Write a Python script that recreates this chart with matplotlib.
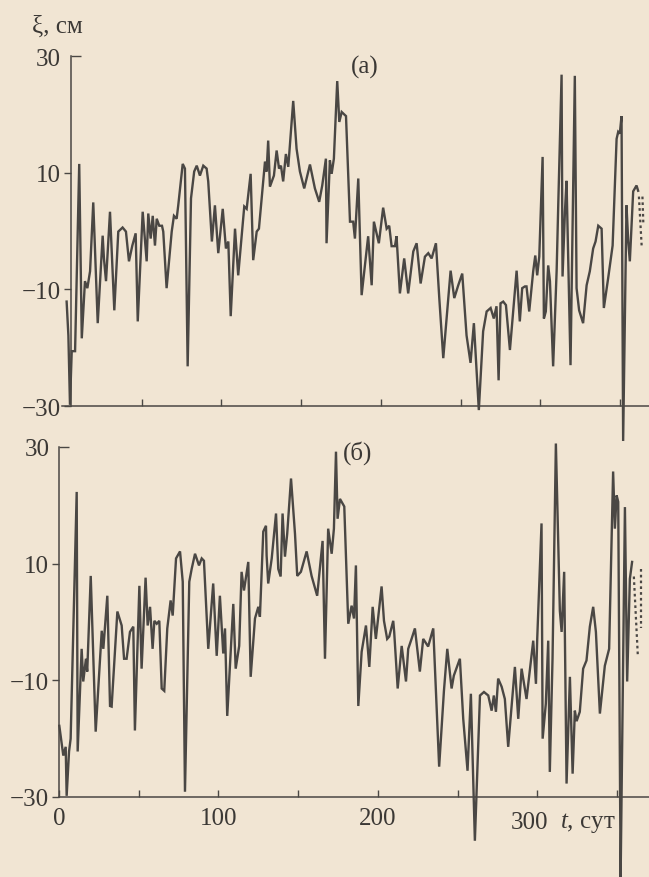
import matplotlib
matplotlib.use('Agg')
import matplotlib.pyplot as plt
from matplotlib.ticker import FixedLocator, FixedFormatter

# sea level anomaly, panel (a)
t_a = [2.9, 4.0, 5.0, 6.1, 8.2, 10.8, 12.4, 14.4, 15.9, 17.6, 19.6, 22.4, 25.5, 26.3,
       27.6, 30.1, 32.8, 35.3, 38.0, 40.1, 42.0, 44.1, 46.2, 47.5, 50.6, 53.1, 54.1,
       55.6, 56.9, 58.3, 59.4, 61.0, 62.7, 63.5, 65.6, 68.8, 70.2, 71.9, 72.9, 75.7,
       77.1, 78.8, 80.9, 82.9, 84.5, 86.5, 88.6, 90.7, 91.7, 94.0, 95.9, 98.0, 100.8,
       102.8, 104.3, 105.8, 108.5, 110.5, 114.3, 115.8, 118.3, 119.9, 122.1, 123.5,
       127.3, 128.3, 129.3, 130.4, 132.9, 134.6, 136.1, 137.3, 138.7, 140.4, 141.9,
       145.0, 147.1, 149.2, 151.9, 155.5, 158.6, 161.3, 163.2, 165.5, 165.9, 168.0,
       169.1, 170.5, 172.6, 173.9, 175.4, 178.1, 180.6, 182.6, 183.7, 185.8, 187.9,
       192.0, 194.2, 195.6, 198.7, 201.4, 203.6, 205.2, 206.7, 208.8, 209.8, 211.9,
       214.6, 217.1, 220.3, 222.4, 224.9, 227.6, 229.7, 231.8, 234.5, 236.6, 239.1,
       241.2, 243.7, 246.0, 248.5, 251.0, 253.7, 256.2, 258.3, 261.4, 264.1, 266.3,
       268.8, 270.8, 272.5, 273.8, 275.0, 276.7, 278.4, 280.9, 285.1, 287.1, 288.6,
       290.3, 291.3, 293.0, 295.5, 296.8, 298.0, 299.3, 301.4, 302.2, 303.4, 304.9,
       306.0, 308.0, 310.2, 311.2, 313.3, 313.9, 315.4, 316.4, 318.9, 321.6, 322.7,
       324.3, 326.8, 329.0, 331.0, 333.1, 334.6, 336.3, 338.4, 339.8, 342.5, 345.3,
       347.8, 348.8, 349.8, 350.9, 351.9, 354.0, 355.1, 356.1, 358.2, 360.3, 361.3]
xi_a = [-12.1, -17.9, -29.8, -20.6, -20.6, 11.5, -18.4, -8.6, -9.8, -6.9, 4.9, -15.8,
        -0.8, -4.7, -8.6, 3.3, -13.6, -0.1, 0.6, -0.1, -5.2, -2.5, -0.4, -15.5, 3.3,
        -5.2, 3.0, -1.3, 2.6, -2.5, 2.1, 0.9, 0.9, -0.1, -9.8, -0.1, 2.6, 2.1, 4.4,
        11.5, 10.7, -23.2, 5.6, 10.2, 11.2, 9.5, 11.2, 10.7, 8.5, -1.8, 4.4, -3.8, 3.8,
        -3.0, -1.8, -14.6, 0.4, -7.6, 4.2, 3.8, 9.8, -5.0, -0.1, 0.4, 11.9, 10.2, 15.5,
        7.6, 9.5, 13.8, 10.7, 11.2, 8.5, 13.2, 11.0, 22.3, 14.1, 10.2, 7.3, 11.4, 7.3,
        5.0, 7.8, 12.4, -2.1, 12.1, 9.8, 12.4, 25.7, 18.7, 20.4, 19.7, 1.6, 1.6, -1.3,
        9.0, -11.0, -0.9, -9.3, 1.6, -2.1, 4.0, 0.4, 0.9, -2.6, -2.6, -0.9, -10.7,
        -4.7, -10.7, -3.5, -2.1, -9.0, -4.4, -3.8, -4.7, -2.1, -11.5, -21.8, -15.0,
        -6.8, -11.5, -9.3, -7.3, -17.9, -22.6, -15.8, -30.7, -17.2, -13.8, -13.2,
        -15.0, -12.9, -25.6, -12.4, -12.1, -12.7, -20.4, -6.8, -15.5, -9.8, -9.5, -9.5,
        -13.8, -6.9, -4.2, -7.6, -4.4, 12.7, -15.0, -13.8, -5.9, -8.6, -23.2, -6.8,
        4.4, 26.8, -7.8, 3.3, 8.6, -23.0, 26.6, -9.8, -13.6, -15.8, -9.3, -6.9, -3.0,
        -1.8, 0.9, 0.4, -13.2, -8.1, -2.5, 15.8, 17.0, 16.7, 19.7, -36.0, 4.4, -1.8,
        -5.2, 6.8, 7.8, 6.9]
# dotted tails of panel (a)
t_a_dot1 = [361.8, 363.6]
xi_a_dot1 = [5.9, -3.0]
t_a_dot2 = [364.0, 364.6]
xi_a_dot2 = [5.9, 1.0]

# sea level anomaly, panel (b)
t_b = [0.2, 2.7, 4.2, 4.8, 6.3, 7.3, 11.1, 11.7, 14.2, 15.2, 16.9, 17.7, 19.9, 23.0,
       25.1, 26.8, 27.8, 30.3, 32.0, 33.0, 36.6, 39.3, 40.8, 42.4, 44.5, 46.6, 47.6,
       50.4, 51.8, 54.3, 55.6, 57.1, 58.7, 59.8, 61.3, 62.9, 64.4, 66.0, 67.9, 70.0,
       71.3, 73.4, 75.9, 77.6, 79.0, 81.7, 83.2, 85.3, 87.8, 89.5, 90.9, 93.6, 96.7,
       98.9, 100.9, 103.0, 104.1, 105.5, 109.3, 110.8, 113.0, 114.5, 116.0, 118.7,
       120.2, 122.9, 125.0, 126.0, 128.1, 129.8, 130.2, 131.2, 133.4, 136.1, 137.5,
       139.0, 140.2, 141.7, 143.1, 145.5, 148.0, 149.4, 151.7, 155.3, 158.4, 161.9,
       165.3, 166.8, 168.8, 171.0, 172.4, 173.7, 174.7, 176.2, 178.9, 181.4, 183.5,
       185.0, 186.2, 187.7, 189.8, 192.5, 194.6, 196.7, 198.7, 202.3, 203.8, 205.8,
       207.1, 209.6, 210.2, 212.4, 214.9, 217.6, 219.0, 221.1, 223.2, 226.3, 228.4,
       231.5, 234.7, 238.4, 241.4, 243.5, 246.2, 247.6, 251.4, 253.5, 256.2, 258.3,
       260.8, 264.0, 266.5, 269.2, 271.3, 272.7, 274.0, 275.4, 277.6, 279.6, 281.7,
       285.9, 288.0, 290.1, 293.2, 297.4, 299.1, 299.9, 302.6, 303.3, 305.3, 306.8,
       307.8, 309.5, 311.6, 314.1, 315.2, 316.8, 318.3, 320.4, 322.1, 323.5, 324.6,
       326.6, 328.7, 330.8, 332.9, 335.0, 336.7, 339.2, 342.3, 345.0, 347.5, 348.6,
       349.7, 350.7, 352.2, 354.9, 356.3, 358.0, 359.4]
xi_b = [-17.8, -22.9, -21.4, -29.8, -22.2, -20.0, 22.3, -22.2, -4.6, -10.2, -6.3, -8.5,
        7.9, -18.8, -9.2, -1.5, -4.6, 4.5, -14.4, -14.5, 1.8, -0.6, -6.3, -6.3, -1.7,
        -0.8, -18.6, 6.2, -8.0, 7.6, -0.6, 2.6, -4.6, 0.2, -0.3, 0.2, -11.4, -11.8,
        -1.1, 3.7, 1.1, 10.9, 12.1, 6.9, -29.1, 6.9, 9.1, 11.7, 9.7, 10.9, 10.5, -4.6,
        6.6, -5.8, 4.5, -5.4, -1.1, -16.1, 3.1, -8.0, -4.1, 8.6, 5.4, 10.3, -9.4, 0.6,
        2.6, 0.9, 15.5, 16.5, 11.4, 6.6, 10.9, 18.6, 9.1, 7.8, 18.6, 11.2, 15.1, 24.6,
        15.1, 7.9, 8.6, 12.1, 7.9, 4.5, 13.9, -6.3, 16.0, 11.7, 16.0, 29.2, 17.7, 21.1,
        19.8, -0.3, 2.8, 0.6, 9.7, -14.4, -5.1, -0.6, -7.7, 2.6, -2.9, 6.1, 0.2, -2.9,
        -2.5, 0.2, -1.7, -11.4, -4.1, -10.2, -4.6, -2.9, -1.1, -8.5, -2.9, -4.2, -1.1,
        -24.8, -11.8, -4.6, -11.4, -9.2, -6.3, -16.6, -25.5, -12.3, -37.5, -12.6,
        -12.0, -12.6, -15.2, -12.6, -15.4, -9.7, -11.1, -13.2, -21.4, -7.7, -16.6,
        -8.0, -13.2, -3.2, -10.6, -2.9, 16.9, -20.0, -14.0, -3.2, -25.7, -6.3, 30.6,
        1.9, -1.7, 8.6, -27.7, -9.4, -26.0, -15.2, -17.0, -15.4, -8.0, -6.6, -0.8, 2.6,
        -1.7, -15.7, -7.5, -4.6, 25.8, 16.0, 21.7, 20.6, -43.9, 19.7, -10.2, 7.4, 10.3]
# dotted tails of panel (b)
t_b_dot1 = [360.5, 363.0]
xi_b_dot1 = [7.8, -5.8]
t_b_dot2 = [364.9, 364.9]
xi_b_dot2 = [9.1, -1.1]

x_ticks = [0, 50, 100, 150, 200, 250, 300, 350]
x_labels = ['0', '', '100', '', '200', '', '', '']
y_ticks = [10, -10, -30]
y_labels = ['10', '\u221210', '\u221230']

W, H = 649, 878
PAPER = '#f1e5d3'
INK = '#4a4744'
TEXT = '#3b3835'

plt.rcParams['font.family'] = ['Liberation Serif', 'DejaVu Serif']
plt.rcParams['mathtext.fontset'] = 'custom'
plt.rcParams['mathtext.it'] = 'Liberation Serif:italic'
plt.rcParams['mathtext.rm'] = 'Liberation Serif'

fig = plt.figure(figsize=(W / 100, H / 100), dpi=100, facecolor=PAPER)


def px_box(left, bottom_y, top_y, width=590):
    return [left / W, 1 - bottom_y / H, width / W, (bottom_y - top_y) / H]


def style_axis(ax, first_tick, show_xlabels, spine_at):
    ax.set_facecolor(PAPER)
    ax.set_xlim(0, 370)
    ax.set_ylim(-30, 30)
    for s in ['top', 'right']:
        ax.spines[s].set_visible(False)
    for s in ['left', 'bottom']:
        ax.spines[s].set_color(INK)
        ax.spines[s].set_linewidth(1.1)
    ax.spines['left'].set_position(('data', spine_at))

    ticks = [t for t in x_ticks if t >= first_tick]
    ax.xaxis.set_major_locator(FixedLocator(ticks))
    if show_xlabels:
        ax.xaxis.set_major_formatter(
            FixedFormatter([x_labels[x_ticks.index(t)] for t in ticks]))
    else:
        ax.xaxis.set_major_formatter(FixedFormatter([''] * len(ticks)))
    ax.tick_params(axis='x', direction='in', length=5, width=1.0, color=INK,
                   labelsize=18, labelcolor=TEXT, pad=7)

    ax.yaxis.set_major_locator(FixedLocator(y_ticks))
    ax.yaxis.set_major_formatter(FixedFormatter(y_labels))
    ax.yaxis.set_minor_locator(FixedLocator([30]))
    ax.yaxis.set_minor_formatter(FixedFormatter(['30']))
    ax.tick_params(axis='y', which='major', direction='out', length=5, width=1.0,
                   color=INK, labelsize=18, labelcolor=TEXT, pad=2)
    ax.tick_params(axis='y', which='minor', direction='in', length=7, width=1.0,
                   color=INK, labelsize=18, labelcolor=TEXT, pad=7)


ax_a = fig.add_axes(px_box(62, 407, 57))
ax_b = fig.add_axes(px_box(59, 798, 448))
style_axis(ax_a, 50, False, 5.5)
style_axis(ax_b, 0, True, 0)

line_kw = dict(color=INK, linewidth=1.7, solid_joinstyle='miter', clip_on=False)
dot_kw = dict(color=INK, linewidth=1.6, linestyle=(0, (1.2, 1.4)), clip_on=False)

ax_a.plot(t_a, xi_a, **line_kw)
ax_a.plot(t_a_dot1, xi_a_dot1, **dot_kw)
ax_a.plot(t_a_dot2, xi_a_dot2, **dot_kw)

ax_b.plot(t_b, xi_b, **line_kw)
ax_b.plot(t_b_dot1, xi_b_dot1, **dot_kw)
ax_b.plot(t_b_dot2, xi_b_dot2, **dot_kw)

# labels
fig.text(32 / W, 1 - 33 / H, '\u03be, см', fontsize=18, color=TEXT, va='baseline')
fig.text(365 / W, 1 - 67 / H, '(а)', fontsize=18, color=TEXT, ha='center', va='center')
fig.text(358 / W, 1 - 453 / H, '(б)', fontsize=18, color=TEXT, ha='center', va='center')
fig.text(529 / W, 1 - 823 / H, '300', fontsize=18, color=TEXT,
         ha='center', va='center')
fig.text(560 / W, 1 - 823 / H, '$t$, сут', fontsize=18, color=TEXT,
         ha='left', va='center')

fig.savefig('out.png', dpi=100, facecolor=PAPER)
